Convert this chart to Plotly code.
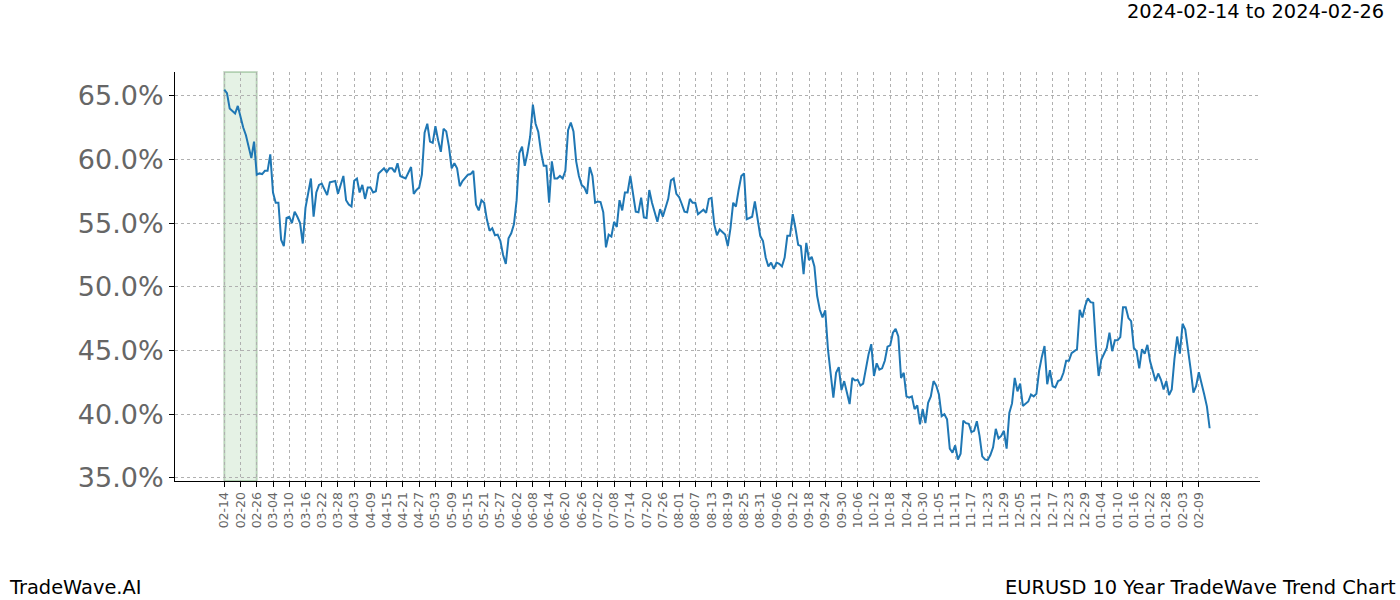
import pandas as pd
import plotly.graph_objects as go

# ---------------- data ----------------
start_date = "2023-02-14"
shade_start = "2023-02-14"
shade_end = "2023-02-26"
last_tick_date = "2024-02-09"
title_text = "2024-02-14 to 2024-02-26"
left_footer = "TradeWave.AI"
right_footer = "EURUSD 10 Year TradeWave Trend Chart"

# day offsets from start_date (days where a value was read)
day_offsets = ([0, 1, 2, 4, 5, 6, 7, 8, 10, 11,
                12, 13, 14, 15, 16, 17, 18, 19, 20, 21,
                22, 23, 24, 25, 26, 27, 28, 29, 30, 32,
                33, 34, 35, 36, 38, 39, 41, 42, 44, 45,
                46, 47, 48, 49, 50, 51, 52, 53, 54, 55,
                56, 57, 58, 59, 60, 61, 62, 63, 64, 65,
                66, 67, 69, 70, 71, 72, 73, 74, 75, 76,
                77, 78, 79, 80, 81, 82, 83, 84, 85, 86,
                87, 88, 90, 91, 92, 93, 94, 95, 96, 97]
               + list(range(98, 159))
               + [160, 161, 162]
               + list(range(164, 365)))

trend_pct = [
    65.47, 65.2, 64.0, 63.6, 64.2, 63.25, 62.5, 61.9, 60.1, 61.4,
    58.8, 58.9, 58.85, 59.1, 59.1, 60.4, 57.4, 56.6, 56.6, 53.7,
    53.2, 55.4, 55.5, 55.0, 55.9, 55.5, 55.0, 53.4, 56.2, 58.5,
    55.5, 57.4, 58.0, 58.1, 57.2, 58.2, 58.3, 57.3, 58.7, 56.8,
    56.45, 56.3, 58.33, 58.5, 57.4, 58.0, 56.9, 57.8, 57.8, 57.4,
    57.5, 58.9, 59.1, 59.3, 59.0, 59.3, 59.3, 59.0, 59.7, 58.7,
    58.6, 58.5, 59.4, 57.3, 57.6, 57.8, 58.8, 62.1, 62.8, 61.4,
    61.3, 62.6, 61.5, 60.6, 62.4, 62.2, 61.0, 59.3, 59.7, 59.3,
    57.9, 58.3, 58.8, 58.85, 59.1, 56.45, 56.0, 56.8, 56.6, 55.3,
    # 98..158
    54.4, 54.6, 54.05, 54.1, 53.6, 52.5, 51.8, 53.8, 54.2, 54.9,
    56.8, 60.5, 61.0, 59.5, 60.5, 61.8, 64.3, 62.8, 62.15, 60.6,
    59.5, 59.5, 56.6, 59.85, 58.5, 58.5, 58.7, 58.5, 59.1, 62.3,
    62.9, 62.2, 59.85, 58.7, 58.0, 57.8, 57.3, 59.4, 58.7, 56.6,
    56.7, 56.65, 55.85, 53.1, 54.1, 53.95, 55.1, 54.7, 56.8, 56.0,
    57.4, 57.4, 58.7, 57.1, 55.9, 55.85, 57.0, 55.45, 55.4, 57.6,
    56.6,
    # 160..162
    55.1, 56.1, 55.5,
    # 164..364
    56.9, 58.35, 58.5, 57.3, 57.05, 56.5, 55.9, 55.85, 56.9, 56.6,
    56.6, 55.7, 55.85, 56.05, 55.8, 56.9, 56.98, 54.9, 54.05, 54.5,
    54.3, 54.1, 53.2, 54.6, 56.6, 56.3, 57.6, 58.7, 58.9, 55.3,
    55.4, 55.5, 56.7, 55.3, 54.0, 53.6, 52.3, 51.6, 51.9, 51.4,
    51.9, 51.8, 51.6, 52.3, 54.0, 54.0, 55.7, 54.6, 53.3, 53.2,
    51.0, 53.45, 52.1, 52.35, 51.6, 49.3, 48.2, 47.6, 48.15, 45.1,
    43.25, 41.3, 43.25, 43.7, 41.9, 42.6, 41.7, 40.8, 42.85, 42.65,
    42.7, 42.25, 42.4, 43.6, 44.7, 45.5, 43.0, 44.0, 43.5, 43.6,
    44.2, 45.3, 45.4, 46.4, 46.7, 46.1, 42.85, 43.25, 41.4, 41.3,
    41.4, 40.4, 40.7, 39.2, 40.4, 39.3, 40.9, 41.4, 42.6, 42.25,
    41.55, 39.85, 40.0, 39.6, 37.3, 36.98, 37.55, 36.45, 36.9, 39.5,
    39.3, 39.25, 38.6, 38.7, 39.45, 38.3, 36.7, 36.45, 36.4, 36.8,
    37.4, 38.85, 38.1, 38.3, 38.7, 37.3, 40.1, 40.85, 42.85, 41.8,
    42.4, 40.65, 40.85, 41.0, 41.55, 41.4, 41.6, 43.4, 44.5, 45.35,
    42.35, 43.45, 42.2, 42.1, 42.6, 42.7, 43.25, 44.2, 44.2, 44.8,
    44.95, 45.1, 48.2, 47.6, 48.5, 49.1, 48.8, 48.75, 45.35, 43.0,
    44.3, 44.7, 45.2, 46.4, 44.95, 45.8, 45.8, 46.05, 48.4, 48.4,
    47.55, 47.3, 45.2, 44.95, 43.6, 45.1, 44.75, 45.45, 44.15, 43.4,
    42.6, 43.2, 42.7, 41.95, 42.6, 41.5, 41.95, 44.35, 46.1, 44.75,
    47.1, 46.65, 45.2, 43.5, 41.7, 42.2, 43.3, 42.5, 41.55, 40.6,
    38.9,
]
assert len(day_offsets) == len(trend_pct)

y_tick_values = [35, 40, 45, 50, 55, 60, 65]

# ---------------- figure ----------------
start = pd.Timestamp(start_date)
dates = [start + pd.Timedelta(days=d) for d in day_offsets]
tick_dates = pd.date_range(start, last_tick_date, freq="6D")
tick_text = [d.strftime("%m-%d") for d in tick_dates]

FONT = "DejaVu Sans"

fig = go.Figure()
fig.add_trace(go.Scatter(
    x=dates, y=trend_pct, mode="lines",
    line=dict(color="#1f77b4", width=2),
    showlegend=False, hoverinfo="x+y",
))

fig.add_shape(type="rect", xref="x", yref="paper",
              x0=shade_start, x1=shade_end, y0=0, y1=1,
              fillcolor="rgba(0,128,0,0.1)",
              line=dict(color="rgba(0,90,0,0.22)", width=2),
              layer="below")

x_left = start - pd.Timedelta(hours=18.2 * 24)
x_right = start + pd.Timedelta(hours=382.6 * 24)

fig.update_layout(
    width=1400, height=600,
    margin=dict(l=175, r=140, t=72, b=119),
    paper_bgcolor="white", plot_bgcolor="white",
    font=dict(family=FONT, color="#666666"),
    xaxis=dict(
        type="date", range=[x_left, x_right],
        tickmode="array", tickvals=tick_dates, ticktext=tick_text,
        tickangle=-90, tickfont=dict(size=12.5, color="#666666", family=FONT),
        ticks="outside", ticklen=5, tickcolor="black", tickwidth=1,
        showline=True, linecolor="black", linewidth=1,
        showgrid=True, gridcolor="#b0b0b0", gridwidth=0.8, griddash="dot",
        zeroline=False,
    ),
    yaxis=dict(
        range=[34.76, 66.86],
        tickmode="array", tickvals=y_tick_values,
        ticktext=[f"{v:.1f}%" for v in y_tick_values],
        tickfont=dict(size=27, color="#666666", family=FONT),
        ticks="outside", ticklen=5, tickcolor="black", tickwidth=1,
        showline=True, linecolor="black", linewidth=1,
        showgrid=True, gridcolor="#b0b0b0", gridwidth=0.8, griddash="dot",
        zeroline=False,
    ),
)

fig.add_annotation(text=title_text, xref="paper", yref="paper",
                   x=(1386 - 175) / 1085, y=(480.7 - 12) / 408.7,
                   xanchor="right", yanchor="middle", showarrow=False,
                   font=dict(size=19.4, color="black", family=FONT))
fig.add_annotation(text=left_footer, xref="paper", yref="paper",
                   x=(7 - 175) / 1085, y=(480.7 - 587) / 408.7,
                   xanchor="left", yanchor="middle", showarrow=False,
                   font=dict(size=19.4, color="black", family=FONT))
fig.add_annotation(text=right_footer, xref="paper", yref="paper",
                   x=(1398 - 175) / 1085, y=(480.7 - 587) / 408.7,
                   xanchor="right", yanchor="middle", showarrow=False,
                   font=dict(size=19.4, color="black", family=FONT))

fig.write_html("out.html")
